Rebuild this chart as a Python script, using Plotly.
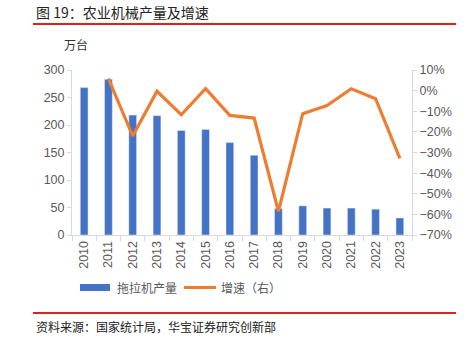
import plotly.graph_objects as go

years = [str(y) for y in range(2010, 2024)]
output = [268, 283, 218, 217, 190, 192, 168, 145, 48, 53, 49, 49, 47, 31]
growth_years = years[1:]
growth = [5.8, -22.0, -0.3, -11.7, 1.0, -12.0, -13.3, -58.5, -11.2, -7.2, 0.9, -3.9, -32.8]
left_ticks = [0, 50, 100, 150, 200, 250, 300]
right_ticks = [-70, -60, -50, -40, -30, -20, -10, 0, 10]
right_labels = ["−70%", "−60%", "−50%", "−40%", "−30%", "−20%", "−10%", "0%", "10%"]

W, H = 469, 342
L, R, T, B = 72, 412, 70, 235

def px(x):
    return (x - L) / (R - L)

def py(y):
    return (B - y) / (B - T)

BLUE = "#4472C4"
ORANGE = "#ED7D31"
GRAY = "#595959"
AX = "#D9D9D9"
CJK = "Noto Sans CJK SC"

fig = go.Figure()
fig.add_trace(go.Bar(x=years, y=output, marker_color=BLUE, width=0.32,
                     name="拖拉机产量", yaxis="y"))
fig.add_trace(go.Scatter(x=growth_years, y=growth, mode="lines",
                         line=dict(color=ORANGE, width=3.2), name="增速（右）",
                         yaxis="y2"))

fig.update_layout(
    width=W, height=H,
    margin=dict(l=L, r=W - R, t=T, b=H - B),
    paper_bgcolor="white", plot_bgcolor="white",
    showlegend=False,
    font=dict(family="Arial, Liberation Sans, sans-serif", color=GRAY, size=12),
    xaxis=dict(type="category", tickangle=-90, showline=True, linecolor=AX,
               ticks="outside", tickson="boundaries", tickcolor=AX, ticklen=5,
               tickfont=dict(size=12.5, color=GRAY), showgrid=False),
    yaxis=dict(range=[0, 300], tickvals=left_ticks, showline=True, linecolor=AX,
               ticks="outside", tickcolor=AX, ticklen=4, showgrid=False,
               zeroline=False, tickfont=dict(size=12.5, color=GRAY)),
    yaxis2=dict(range=[-70, 10], tickmode="array", tickvals=right_ticks,
                ticktext=right_labels,
                overlaying="y", side="right", showline=True, linecolor=AX,
                ticks="outside", tickcolor=AX, ticklen=4, showgrid=False,
                zeroline=False, tickfont=dict(size=12.5, color=GRAY)),
)

shapes = [
    dict(type="line", xref="paper", yref="paper", x0=px(33), x1=px(456),
         y0=py(24), y1=py(24), line=dict(color="#E0201B", width=2)),
    dict(type="line", xref="paper", yref="paper", x0=px(33), x1=px(456),
         y0=py(313), y1=py(313), line=dict(color="#E0201B", width=2)),
    dict(type="rect", xref="paper", yref="paper", x0=px(80), x1=px(110),
         y0=py(291), y1=py(284), fillcolor=BLUE, line=dict(width=0)),
    dict(type="line", xref="paper", yref="paper", x0=px(184), x1=px(216),
         y0=py(287.5), y1=py(287.5), line=dict(color=ORANGE, width=3)),
]
annotations = [
    dict(text="图 19：农业机械产量及增速", x=px(34), y=py(12), xref="paper", yref="paper",
         xanchor="left", yanchor="middle", showarrow=False,
         font=dict(family=CJK, size=14, color="#222222")),
    dict(text="万台", x=px(62), y=py(45), xref="paper", yref="paper",
         xanchor="left", yanchor="middle", showarrow=False,
         font=dict(family=CJK, size=12, color="#333333")),
    dict(text="拖拉机产量", x=px(115), y=py(287.5), xref="paper", yref="paper",
         xanchor="left", yanchor="middle", showarrow=False,
         font=dict(family=CJK, size=12, color=GRAY)),
    dict(text="增速（右）", x=px(219), y=py(287.5), xref="paper", yref="paper",
         xanchor="left", yanchor="middle", showarrow=False,
         font=dict(family=CJK, size=12, color=GRAY)),
    dict(text="资料来源：国家统计局，华宝证券研究创新部", x=px(34), y=py(326),
         xref="paper", yref="paper", xanchor="left", yanchor="middle",
         showarrow=False, font=dict(family=CJK, size=12, color="#222222")),
]
fig.update_layout(shapes=shapes, annotations=annotations)

fig.write_html("out.html")
